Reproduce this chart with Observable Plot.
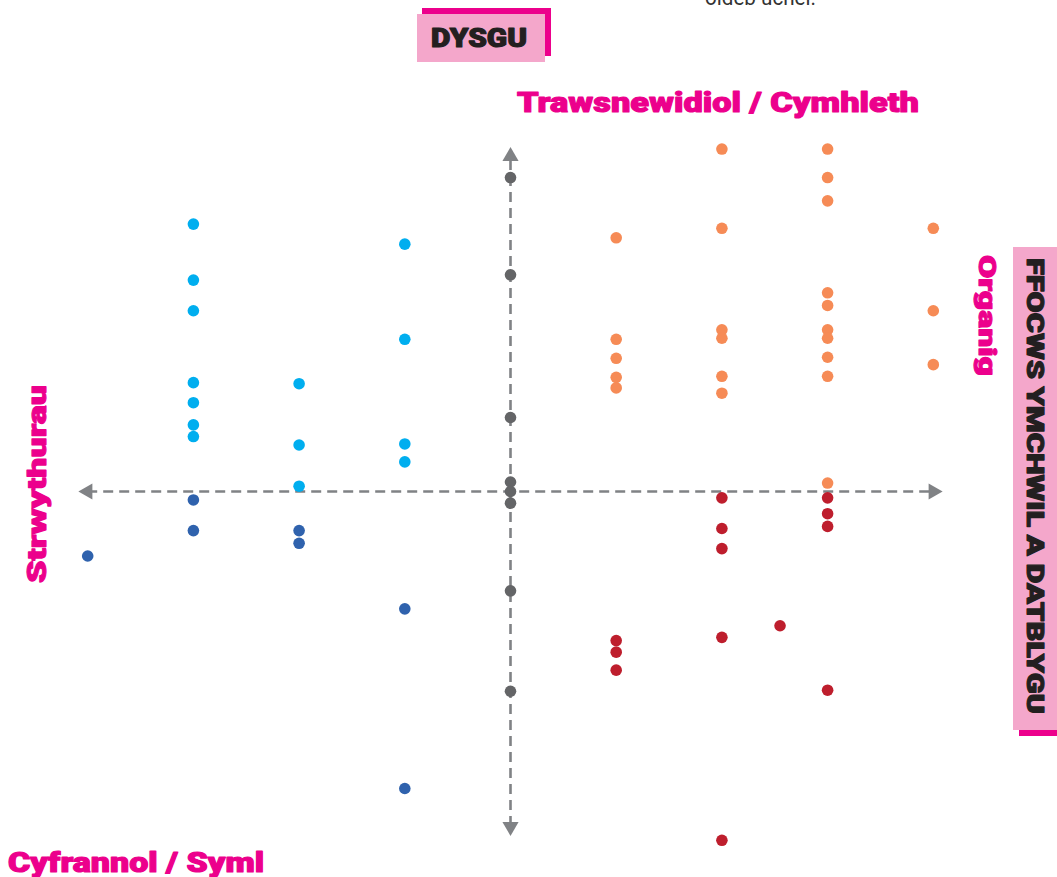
<!DOCTYPE html>
<html>
<head>
<meta charset="utf-8">
<script src="https://cdn.jsdelivr.net/npm/d3@7"></script>
<script src="https://cdn.jsdelivr.net/npm/@observablehq/plot@0.6"></script>
<style>
  html, body { margin: 0; padding: 0; background: #fff; }
  #chart { width: 1057px; height: 877px; overflow: hidden; }
</style>
</head>
<body>
<div id="chart"></div>
<script>
// ---- Data (x = column position, y = vertical position; axes cross at 0,0) ----
const lightBlue = [
  [-3, 2.53], [-3, 2.00], [-3, 1.71], [-3, 1.03], [-3, 0.84], [-3, 0.63], [-3, 0.52],
  [-2, 1.02], [-2, 0.44], [-2, 0.05],
  [-1, 2.34], [-1, 1.44], [-1, 0.45], [-1, 0.28]
];
const darkBlue = [
  [-4, -0.61],
  [-3, -0.08], [-3, -0.37],
  [-2, -0.37], [-2, -0.49],
  [-1, -1.11], [-1, -2.81]
];
const grey = [
  [0, 2.97], [0, 2.05], [0, 0.70], [0, 0.09], [0, 0.00], [0, -0.11], [0, -0.94], [0, -1.89]
];
const orange = [
  [1, 2.40], [1, 1.44], [1, 1.26], [1, 1.08], [1, 0.98],
  [2, 3.24], [2, 2.49], [2, 1.53], [2, 1.45], [2, 1.09], [2, 0.93],
  [3, 3.24], [3, 2.97], [3, 2.75], [3, 1.88], [3, 1.76], [3, 1.53], [3, 1.45], [3, 1.27], [3, 1.09], [3, 0.08],
  [4, 2.49], [4, 1.71], [4, 1.20]
];
const red = [
  [1, -1.41], [1, -1.52], [1, -1.69],
  [2, -0.06], [2, -0.35], [2, -0.54], [2, -1.38], [2, -3.30],
  [2.55, -1.27],
  [3, -0.06], [3, -0.21], [3, -0.33], [3, -1.88]
];
const seriesNames = ["Q-light-blue", "Q-dark-blue", "Q-grey", "Q-orange", "Q-red"];
const seriesData = [lightBlue, darkBlue, grey, orange, red];
const seriesColors = ["#00aeef", "#2f62ad", "#646567", "#f68b56", "#be1e2d"];

// axis extents (arrow head centres)
const axisXExtent = [-4.0, 4.0];
const axisYExtent = [-3.17, 3.17];
const arrowHeads = [
  {x: axisXExtent[0], y: 0, rotate: -90},
  {x: axisXExtent[1], y: 0, rotate: 90},
  {x: 0, y: axisYExtent[1], rotate: 0},
  {x: 0, y: axisYExtent[0], rotate: 180}
];

// label texts
const labelTop = "Trawsnewidiol / Cymhleth";
const labelBottom = "Cyfrannol / Syml";
const labelLeft = "Strwythurau";
const labelRight = "Organig";
const boxTop = "DYSGU";
const boxRight = "FFOCWS YMCHWIL A DATBLYGU";
const clippedNote = "oldeb uchel.";

const points = seriesData.flatMap((arr, i) =>
  arr.map(([x, y]) => ({x, y, series: seriesNames[i]}))
);

const U = 105.7;
const W = 1057, H = 877;
const x0px = 510, y0px = 491;

const plot = Plot.plot({
  width: W,
  height: H,
  margin: 0,
  x: {domain: [-x0px / U, (W - x0px) / U], axis: null},
  y: {domain: [-(H - y0px) / U, y0px / U], axis: null},
  color: {type: "ordinal", domain: seriesNames, range: seriesColors},
  marks: [
    Plot.ruleY([0], {x1: axisXExtent[0], x2: axisXExtent[1], stroke: "#808285", strokeWidth: 2.6, strokeDasharray: "10,6"}),
    Plot.ruleX([0], {y1: axisYExtent[0], y2: axisYExtent[1], stroke: "#808285", strokeWidth: 2.6, strokeDasharray: "10,6"}),
    Plot.dot(arrowHeads, {x: "x", y: "y", rotate: "rotate", symbol: "triangle", r: 6, fill: "#808285", stroke: "none"}),
    Plot.dot(points, {x: "x", y: "y", fill: "series", r: 5.8, stroke: "none"})
  ]
});

document.getElementById("chart").appendChild(plot);

// ---- Decorative labels ----
const svg = d3.select(plot);
const FONT = "Roboto, Lato, Inter, 'Liberation Sans', sans-serif";
const magenta = "#ec008c", pink = "#f4a7cb", ink = "#231f20";

function label(g, {text, x, y, size, len, fill, rotate = 0, weight = 900, heavy = 1.1}) {
  const t = g.append("text")
    .attr("transform", `translate(${x},${y}) rotate(${rotate})`)
    .attr("font-family", FONT)
    .attr("font-weight", weight)
    .attr("font-size", size)
    .attr("fill", fill)
    .attr("text-anchor", "start")
    .text(text);
  if (heavy > 0) t.attr("stroke", fill).attr("stroke-width", heavy).attr("stroke-linejoin", "round");
  if (len) t.attr("textLength", len).attr("lengthAdjust", "spacingAndGlyphs");
  return t;
}

const g = svg.append("g").attr("class", "labels");

// clipped note at very top
label(g, {text: clippedNote, x: 705, y: 5, size: 22, len: 111, fill: "#333", weight: 400, heavy: 0});

// DYSGU box
g.append("rect").attr("x", 422).attr("y", 8).attr("width", 129).attr("height", 48).attr("fill", magenta);
g.append("rect").attr("x", 417).attr("y", 14).attr("width", 128).attr("height", 48).attr("fill", pink);
label(g, {text: boxTop, x: 431, y: 47, size: 25, len: 96, fill: ink});

// right box
g.append("rect").attr("x", 1013).attr("y", 247).attr("width", 44).attr("height", 483).attr("fill", pink);
g.append("rect").attr("x", 1019).attr("y", 730).attr("width", 38).attr("height", 6).attr("fill", magenta);
label(g, {text: boxRight, x: 1027, y: 258, size: 24, len: 456, fill: ink, rotate: 90});

// magenta axis labels
label(g, {text: labelTop, x: 517, y: 112, size: 28, len: 402, fill: magenta});
label(g, {text: labelRight, x: 979, y: 255, size: 24, len: 121, fill: magenta, rotate: 90});
label(g, {text: labelLeft, x: 46, y: 583, size: 26, len: 198, fill: magenta, rotate: -90});
label(g, {text: labelBottom, x: 8, y: 872, size: 27, len: 256, fill: magenta});
</script>
</body>
</html>
